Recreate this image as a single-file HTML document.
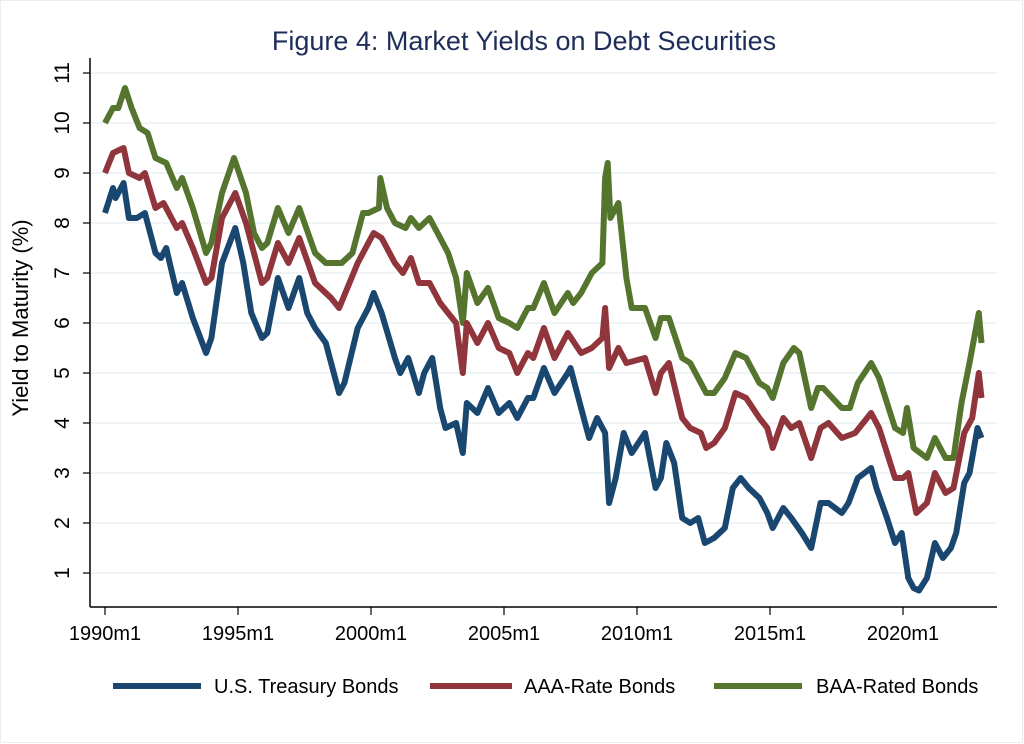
<!DOCTYPE html>
<html><head><meta charset="utf-8"><style>
html,body{margin:0;padding:0;background:#fff}
svg{display:block;font-family:"Liberation Sans",Arial,sans-serif}
</style></head><body>
<svg id="s" width="1024" height="744" viewBox="0 0 1024 744" xmlns="http://www.w3.org/2000/svg">
<rect x="0.5" y="0.5" width="1022" height="742" fill="#fff" stroke="#e8eef2"/>
<text x="524" y="50" text-anchor="middle" font-size="27" fill="#1e2d5a">Figure 4: Market Yields on Debt Securities</text>
<g id="grid"></g>
<line x1="90" y1="58" x2="90" y2="607" stroke="#000" stroke-width="1.5"/>
<line x1="90" y1="607" x2="997" y2="607" stroke="#000" stroke-width="1.5"/>
<text transform="translate(28,318) rotate(-90)" text-anchor="middle" font-size="22" fill="#000">Yield to Maturity (%)</text>
<g id="series" fill="none" stroke-width="6" stroke-linejoin="round" stroke-linecap="butt"></g>
<g font-size="20" fill="#000">
<line x1="113" y1="686" x2="201" y2="686" stroke="#1a476f" stroke-width="6"/>
<text x="214" y="693">U.S. Treasury Bonds</text>
<line x1="430" y1="686" x2="512" y2="686" stroke="#90353b" stroke-width="6"/>
<text x="524" y="693">AAA-Rate Bonds</text>
<line x1="714" y1="686" x2="802" y2="686" stroke="#55752f" stroke-width="6"/>
<text x="816" y="693">BAA-Rated Bonds</text>
</g>
</svg>
<script>
var NS="http://www.w3.org/2000/svg";
function X(t){return 105+26.6*(t-1990);}
function Y(v){return 573-50*(v-1);}
var g=document.getElementById('grid');
function el(p,tag,a,txt){var e=document.createElementNS(NS,tag);for(var k in a)e.setAttribute(k,a[k]);if(txt)e.textContent=txt;p.appendChild(e);return e;}
for(var v=1;v<=11;v++){var y=Y(v);
el(g,'line',{x1:91,y1:y,x2:997,y2:y,stroke:'#eaf2f3','stroke-width':1.5});
el(g,'line',{x1:83,y1:y,x2:90,y2:y,stroke:'#000','stroke-width':1.2});
el(g,'text',{transform:'translate(69,'+y+') rotate(-90)','text-anchor':'middle','font-size':21},String(v));}
for(var yr=1990;yr<=2020;yr+=5){var x=X(yr);
el(g,'line',{x1:x,y1:607,x2:x,y2:615,stroke:'#000','stroke-width':1.2});
el(g,'text',{x:x,y:640,'text-anchor':'middle','font-size':20},yr+'m1');}
var T=[1990.0,8.2,1990.3,8.7,1990.4,8.5,1990.7,8.8,1990.9,8.1,1991.2,8.1,1991.5,8.2,1991.9,7.4,1992.1,7.3,1992.3,7.5,1992.7,6.6,1992.9,6.8,1993.3,6.1,1993.8,5.4,1994.0,5.7,1994.4,7.2,1994.9,7.9,1995.2,7.2,1995.5,6.2,1995.9,5.7,1996.1,5.8,1996.5,6.9,1996.9,6.3,1997.3,6.9,1997.6,6.2,1997.9,5.9,1998.3,5.6,1998.8,4.6,1999.0,4.8,1999.5,5.9,1999.9,6.3,2000.1,6.6,2000.4,6.2,2000.9,5.3,2001.1,5.0,2001.4,5.3,2001.8,4.6,2002.0,5.0,2002.3,5.3,2002.6,4.3,2002.8,3.9,2003.2,4.0,2003.45,3.4,2003.6,4.4,2004.0,4.2,2004.4,4.7,2004.8,4.2,2005.2,4.4,2005.5,4.1,2005.9,4.5,2006.1,4.5,2006.5,5.1,2006.9,4.6,2007.4,5.0,2007.5,5.1,2007.9,4.3,2008.2,3.7,2008.5,4.1,2008.8,3.8,2008.95,2.4,2009.2,2.9,2009.5,3.8,2009.8,3.4,2010.3,3.8,2010.7,2.7,2010.9,2.9,2011.1,3.6,2011.4,3.2,2011.7,2.1,2012.0,2.0,2012.3,2.1,2012.55,1.6,2012.9,1.7,2013.3,1.9,2013.6,2.7,2013.9,2.9,2014.2,2.7,2014.6,2.5,2014.9,2.2,2015.1,1.9,2015.5,2.3,2015.8,2.1,2016.2,1.8,2016.55,1.5,2016.9,2.4,2017.2,2.4,2017.7,2.2,2017.95,2.4,2018.3,2.9,2018.8,3.1,2019.0,2.7,2019.4,2.1,2019.7,1.6,2019.95,1.8,2020.2,0.9,2020.4,0.7,2020.6,0.65,2020.9,0.9,2021.2,1.6,2021.5,1.3,2021.8,1.5,2022.0,1.8,2022.3,2.8,2022.5,3.0,2022.8,3.9,2022.95,3.7];
var A=[1990.0,9.0,1990.3,9.4,1990.7,9.5,1990.9,9.0,1991.3,8.9,1991.5,9.0,1991.9,8.3,1992.2,8.4,1992.7,7.9,1992.9,8.0,1993.3,7.5,1993.8,6.8,1994.0,6.9,1994.4,8.1,1994.9,8.6,1995.3,8.0,1995.9,6.8,1996.1,6.9,1996.5,7.6,1996.9,7.2,1997.3,7.7,1997.9,6.8,1998.5,6.5,1998.8,6.3,1999.5,7.2,1999.9,7.6,2000.1,7.8,2000.4,7.7,2000.9,7.2,2001.2,7.0,2001.5,7.3,2001.8,6.8,2002.2,6.8,2002.6,6.4,2002.9,6.2,2003.2,6.0,2003.45,5.0,2003.6,6.0,2004.0,5.6,2004.4,6.0,2004.8,5.5,2005.2,5.4,2005.5,5.0,2005.9,5.4,2006.1,5.3,2006.5,5.9,2006.9,5.3,2007.4,5.8,2007.9,5.4,2008.3,5.5,2008.7,5.7,2008.8,6.3,2008.95,5.1,2009.3,5.5,2009.6,5.2,2010.3,5.3,2010.7,4.6,2010.9,5.0,2011.2,5.2,2011.7,4.1,2012.0,3.9,2012.4,3.8,2012.6,3.5,2012.9,3.6,2013.3,3.9,2013.7,4.6,2014.1,4.5,2014.6,4.1,2014.9,3.9,2015.1,3.5,2015.5,4.1,2015.8,3.9,2016.1,4.0,2016.55,3.3,2016.9,3.9,2017.2,4.0,2017.7,3.7,2018.2,3.8,2018.8,4.2,2019.1,3.9,2019.7,2.9,2020.0,2.9,2020.2,3.0,2020.5,2.2,2020.9,2.4,2021.2,3.0,2021.6,2.6,2021.9,2.7,2022.3,3.8,2022.6,4.1,2022.85,5.0,2022.95,4.5];
var B=[1990.0,10.0,1990.3,10.3,1990.5,10.3,1990.75,10.7,1991.0,10.3,1991.3,9.9,1991.6,9.8,1991.9,9.3,1992.3,9.2,1992.7,8.7,1992.9,8.9,1993.3,8.3,1993.8,7.4,1994.0,7.6,1994.4,8.6,1994.85,9.3,1995.3,8.6,1995.6,7.8,1995.9,7.5,1996.1,7.6,1996.5,8.3,1996.9,7.8,1997.3,8.3,1997.9,7.4,1998.3,7.2,1998.9,7.2,1999.3,7.4,1999.7,8.2,1999.9,8.2,2000.3,8.3,2000.35,8.9,2000.6,8.3,2000.9,8.0,2001.3,7.9,2001.5,8.1,2001.8,7.9,2002.2,8.1,2002.6,7.7,2002.9,7.4,2003.2,6.9,2003.45,6.0,2003.6,7.0,2004.0,6.4,2004.4,6.7,2004.8,6.1,2005.2,6.0,2005.5,5.9,2005.9,6.3,2006.1,6.3,2006.5,6.8,2006.9,6.2,2007.4,6.6,2007.6,6.4,2007.9,6.6,2008.3,7.0,2008.7,7.2,2008.8,8.9,2008.9,9.2,2009.0,8.1,2009.3,8.4,2009.6,6.9,2009.8,6.3,2010.3,6.3,2010.7,5.7,2010.9,6.1,2011.2,6.1,2011.7,5.3,2012.0,5.2,2012.6,4.6,2012.9,4.6,2013.3,4.9,2013.7,5.4,2014.1,5.3,2014.6,4.8,2014.9,4.7,2015.1,4.5,2015.5,5.2,2015.9,5.5,2016.1,5.4,2016.55,4.3,2016.8,4.7,2017.0,4.7,2017.7,4.3,2018.0,4.3,2018.3,4.8,2018.8,5.2,2019.1,4.9,2019.7,3.9,2020.0,3.8,2020.15,4.3,2020.4,3.5,2020.9,3.3,2021.2,3.7,2021.6,3.3,2021.9,3.3,2022.2,4.4,2022.5,5.2,2022.85,6.2,2022.95,5.6];
var sg=document.getElementById('series');
function path(a,c){var d='';for(var i=0;i<a.length;i+=2){d+=(i?'L':'M')+X(a[i]).toFixed(1)+','+Y(a[i+1]).toFixed(1);}
el(sg,'path',{d:d,stroke:c});}
path(B,'#55752f');path(A,'#90353b');path(T,'#1a476f');
</script>
</body></html>
